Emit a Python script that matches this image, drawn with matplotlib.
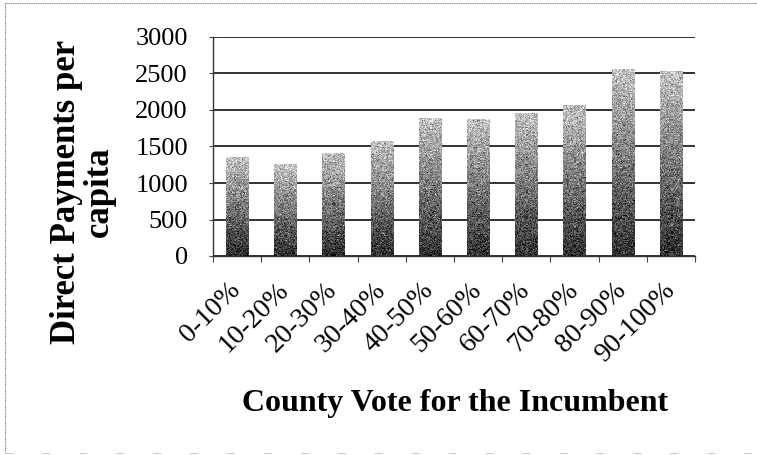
import numpy as np
import matplotlib
matplotlib.use("Agg")
import matplotlib.pyplot as plt
from matplotlib.lines import Line2D

categories = ["0-10%", "10-20%", "20-30%", "30-40%", "40-50%",
              "50-60%", "60-70%", "70-80%", "80-90%", "90-100%"]
payments = [1355, 1255, 1415, 1570, 1885, 1875, 1955, 2070, 2555, 2540]
y_ticks = [0, 500, 1000, 1500, 2000, 2500, 3000]

W, H, DPI = 757, 455, 100
fig = plt.figure(figsize=(W / DPI, H / DPI), dpi=DPI)
fig.patch.set_facecolor("white")
ax = fig.add_axes([213 / W, 1 - 256 / H, (695 - 213) / W, (256 - 37) / H])

serif = "Liberation Serif"
tick_font = dict(family=serif, size=19)

x = np.arange(len(categories))
bar_w = 0.46
bars = ax.bar(x, payments, width=bar_w, color="none", edgecolor="none", zorder=3)

# vertical dark-to-light gradient with a coarse grain inside each bar
rng = np.random.default_rng(7)
for b in bars:
    x0, w, h = b.get_x(), b.get_width(), b.get_height()
    ny = max(int(h / 3000 * 220), 2)
    t = np.linspace(0, 1, ny)[:, None] * np.ones((1, 22))
    shade = 0.18 + 0.58 * t + rng.normal(0, 0.12, t.shape)
    shade = np.clip(shade, 0, 1)
    im = ax.imshow(shade, cmap="gray", vmin=0, vmax=1, origin="lower",
                   extent=[x0, x0 + w, 0, h], aspect="auto",
                   interpolation="nearest", zorder=3)
    im.set_clip_path(b)

ax.set_xlim(-0.5, len(categories) - 0.5)
ax.set_ylim(0, 3000)
ax.set_yticks(y_ticks)
ax.set_yticklabels([str(v) for v in y_ticks], **tick_font)
ax.set_xticks(x)
ax.set_xticklabels(categories, rotation=45, ha="right", va="center",
                   rotation_mode="anchor", family=serif, size=20)
ax.set_xticks(np.arange(-0.5, len(categories)), minor=True)
ax.tick_params(axis="x", which="major", length=0, pad=22)
ax.tick_params(axis="x", which="minor", length=4, width=0.8, color="#444")
ax.tick_params(axis="y", length=6, width=0.8, direction="inout", color="#444", pad=15)

ax.grid(axis="y", color="#222222", linewidth=1.3, zorder=1)
ax.set_axisbelow(True)
for s in ["top", "right"]:
    ax.spines[s].set_visible(False)
for s in ["left", "bottom"]:
    ax.spines[s].set_color("#333333")
    ax.spines[s].set_linewidth(1.0)

fig.text(455 / W, 1 - 404 / H, "County Vote for the Incumbent",
         ha="center", va="center", family=serif, size=23, weight="bold")
fig.text(83 / W, 1 - 192 / H, "Direct Payments per\ncapita",
         ha="center", va="center", rotation=90, linespacing=1.0,
         family=serif, size=25, weight="bold")

# thin border: top and left edges, faint broken line along the bottom
edge = dict(transform=fig.transFigure, color="#8a8a8a", linewidth=0.8)
fig.add_artist(Line2D([5 / W, 1.0], [1 - 2.5 / H, 1 - 2.5 / H], linestyle=(0, (1, 0.6)), **edge))
fig.add_artist(Line2D([5 / W, 5 / W], [1 - 2.5 / H, 2 / H], linestyle=(0, (1, 0.6)), **edge))
fig.add_artist(Line2D([5 / W, 1.0], [2.5 / H, 2.5 / H], linestyle=(0, (8, 30)),
                      transform=fig.transFigure, color="#c8c8c8", linewidth=0.7))

fig.savefig("out.png", dpi=DPI)
